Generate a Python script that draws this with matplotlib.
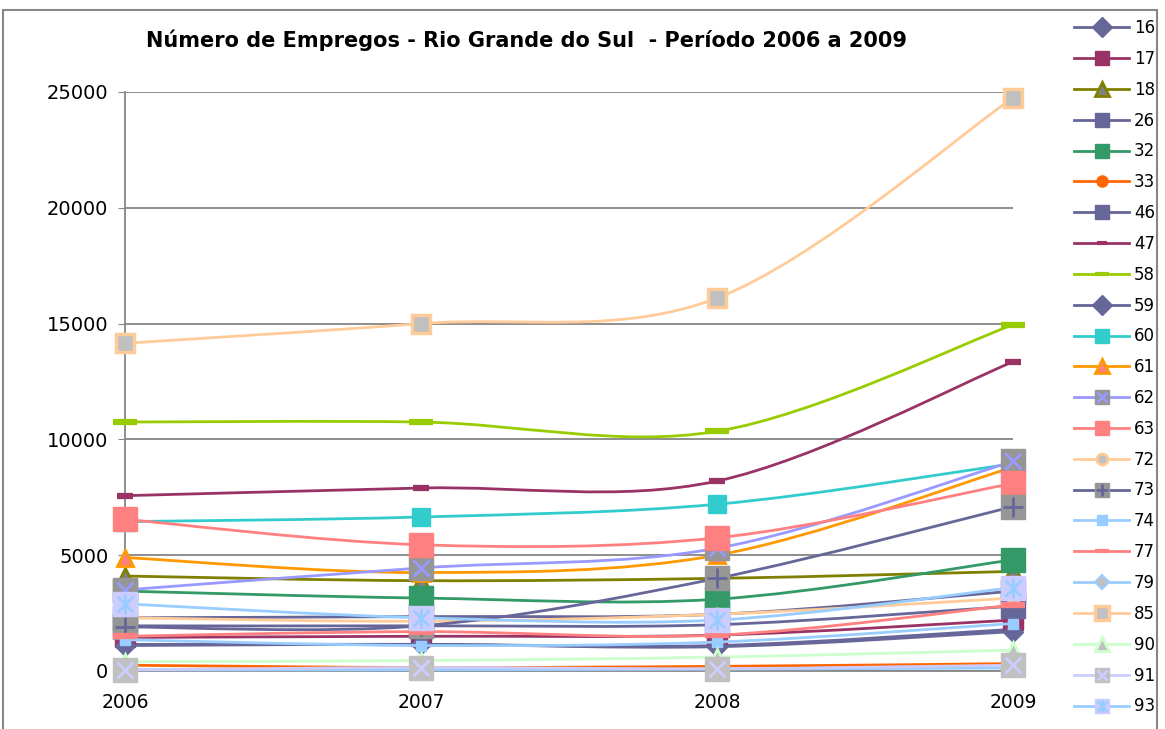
import matplotlib
matplotlib.use("Agg")
import matplotlib.pyplot as plt
from matplotlib.path import Path
from matplotlib.patches import PathPatch, Rectangle
from matplotlib.lines import Line2D

years = ["2006", "2007", "2008", "2009"]
y_ticks = [0, 5000, 10000, 15000, 20000, 25000]

v16 = [1150, 1150, 1100, 1800]
v17 = [1450, 1500, 1550, 2200]
v18 = [4100, 3900, 4000, 4300]
v26 = [2300, 2350, 2450, 3450]
v32 = [3450, 3150, 3100, 4800]
v33 = [250, 150, 200, 320]
v46 = [1950, 1950, 2000, 2800]
v47 = [7570, 7900, 8200, 13350]
v58 = [10750, 10750, 10350, 14950]
v59 = [1100, 1150, 1050, 1700]
v60 = [6450, 6650, 7200, 8950]
v61 = [4900, 4250, 5000, 8800]
v62 = [3500, 4450, 5300, 9050]
v63 = [6550, 5450, 5750, 8100]
v72 = [2300, 2150, 2450, 3150]
v73 = [1900, 1950, 4000, 7100]
v74 = [1350, 1100, 1250, 2050]
v77 = [1500, 1700, 1550, 2850]
v79 = [50, 50, 80, 130]
v85 = [14150, 15000, 16100, 24750]
v90 = [400, 450, 600, 900]
v91 = [50, 150, 100, 250]
v93 = [2900, 2300, 2200, 3600]

codes = ["16", "17", "18", "26", "32", "33", "46", "47", "58", "59", "60", "61",
         "62", "63", "72", "73", "74", "77", "79", "85", "90", "91", "93"]
values = [v16, v17, v18, v26, v32, v33, v46, v47, v58, v59, v60, v61,
          v62, v63, v72, v73, v74, v77, v79, v85, v90, v91, v93]

GREY = "#969696"
SILVER = "#C0C0C0"

# line colour, marker, size, face, edge, edge width, overlay markers
styles = {
    "16": ("#666699", "D", 10, "#666699", "#666699", 1, []),
    "17": ("#993366", "s", 14, "#993366", "#993366", 1, []),
    "18": ("#808000", "^", 12, "#808080", "#808000", 2, []),
    "26": ("#666699", "s", 17, "#666699", "#666699", 1, []),
    "32": ("#339966", "s", 17, "#339966", "#339966", 1, []),
    "33": ("#FF6600", "o", 8, "#FF6600", "#FF6600", 1, []),
    "46": ("#666699", "s", 17, "#666699", "#666699", 1, []),
    "47": ("#993366", "_", 11, "#993366", "#993366", 4.5, []),
    "58": ("#99CC00", "_", 17, "#99CC00", "#99CC00", 4.5, []),
    "59": ("#666699", "D", 10, "#666699", "#666699", 1, []),
    "60": ("#33CCCC", "s", 13.5, "#33CCCC", "#33CCCC", 1, []),
    "61": ("#FF9900", "^", 12, "#FF8080", "#FF9900", 2, []),
    "62": ("#9999FF", "s", 17, GREY, GREY, 1, [("x", "#9999FF", 12, 2)]),
    "63": ("#FF8080", "s", 17, "#FF8080", "#FF8080", 1, []),
    "72": ("#FFCC99", "o", 8, SILVER, "#FFCC99", 2, []),
    "73": ("#666699", "s", 17, GREY, GREY, 1, [("+", "#666699", 14, 2)]),
    "74": ("#99CCFF", "s", 7, "#99CCFF", "#99CCFF", 1, []),
    "77": ("#FF8080", "_", 17, "#FF8080", "#FF8080", 4.5, []),
    "79": ("#99CCFF", "D", 7, SILVER, "#99CCFF", 1.5, []),
    "85": ("#FFCC99", "s", 13, SILVER, "#FFCC99", 2.5, []),
    "90": ("#CCFFCC", "^", 12, SILVER, "#CCFFCC", 2, []),
    "91": ("#CCCCFF", "s", 17, SILVER, SILVER, 1, [("x", "#CCCCFF", 12, 2)]),
    "93": ("#99CCFF", "s", 17, "#CCCCFF", "#CCCCFF", 1,
           [("x", "#99CCFF", 12, 2), ("|", "#99CCFF", 15, 2)]),
}


def smooth_path(xs, ys):
    # Bezier smoothing like the spreadsheet's "smoothed line"
    pts = list(zip(xs, ys))
    n = len(pts)
    verts = [pts[0]]
    kinds = [Path.MOVETO]
    for i in range(n - 1):
        p0 = pts[i - 1] if i > 0 else pts[i]
        p1 = pts[i]
        p2 = pts[i + 1]
        p3 = pts[i + 2] if i + 2 < n else pts[i + 1]
        c1 = (p1[0] + (p2[0] - p0[0]) / 6, p1[1] + (p2[1] - p0[1]) / 6)
        c2 = (p2[0] - (p3[0] - p1[0]) / 6, p2[1] - (p3[1] - p1[1]) / 6)
        verts += [c1, c2, p2]
        kinds += [Path.CURVE4] * 3
    return Path(verts, kinds)


fig = plt.figure(figsize=(11.65, 7.29), dpi=100)
fig.add_artist(Rectangle((3 / 1165, -0.05), 1154 / 1165, 1.05 - 10 / 729,
                         transform=fig.transFigure, fill=False,
                         edgecolor="#868686", lw=1.5))

ax = fig.add_axes([125 / 1165, 1 - 671 / 729, 888 / 1165, 579 / 729])
x = list(range(len(years)))

handles = []
for i, (code, vals) in enumerate(zip(codes, values)):
    color, mk, ms, fc, ec, mew, overlay = styles[code]
    z = 3 + i * 0.1
    ax.add_patch(PathPatch(smooth_path(x, vals), fill=False, edgecolor=color,
                           lw=2, zorder=z, clip_on=False))
    ax.plot(x, vals, ls="none", marker=mk, ms=ms, mfc=fc, mec=ec, mew=mew,
            zorder=z + 0.01, clip_on=False)
    leg_ms = ms * 0.6 if mk == "_" else min(ms, 10)
    parts = [Line2D([], [], color=color, lw=2, marker=mk, ms=leg_ms,
                    mfc=fc, mec=ec, mew=min(mew, 3))]
    for om, oc, oms, omew in overlay:
        ax.plot(x, vals, ls="none", marker=om, ms=oms, mec=oc, mew=omew,
                zorder=z + 0.02, clip_on=False)
        parts.append(Line2D([], [], ls="none", marker=om, ms=oms * 0.6, mec=oc, mew=omew))
    handles.append(tuple(parts))

ax.set_xlim(0, 3)
ax.set_ylim(0, 25000)
ax.set_xticks(x)
ax.set_xticklabels(years)
ax.set_yticks(y_ticks)
ax.set_yticklabels([str(t) for t in y_ticks])
ax.grid(axis="y", color="#868686", lw=1.3)
ax.set_axisbelow(True)
for side in ["top", "right"]:
    ax.spines[side].set_visible(False)
for side in ["left", "bottom"]:
    ax.spines[side].set_color("#868686")
    ax.spines[side].set_linewidth(1.3)
ax.tick_params(axis="y", length=5, color="#868686", pad=7, labelsize=14)
ax.tick_params(axis="x", length=0, pad=16, labelsize=13.5)

fig.text(0.452, 1 - 40 / 729, "Número de Empregos - Rio Grande do Sul  - Período 2006 a 2009",
         ha="center", va="center", fontsize=15, fontweight="bold")

fig.legend(handles, codes, loc="upper left", bbox_to_anchor=(1074 / 1165, 1 - 19 / 729),
           frameon=False, fontsize=12, handlelength=3.3, handletextpad=0.3,
           labelspacing=0.77, borderpad=0, borderaxespad=0)

fig.savefig("out.png", dpi=100)
